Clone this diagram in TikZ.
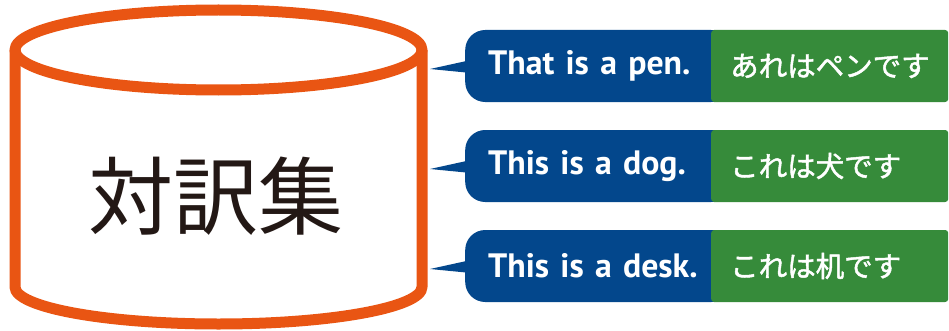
\documentclass[tikz,border=0pt]{standalone}
\usepackage{fontspec}
\setmainfont{PT Sans}
\newfontfamily\jpfont{Noto Sans CJK JP}
\newfontfamily\jpboldfont{Noto Sans CJK JP}[FakeBold=1.6]
\usetikzlibrary{positioning}

\definecolor{dborange}{HTML}{E95513}
\definecolor{enblue}{HTML}{03478C}
\definecolor{jagreen}{HTML}{368B3A}
\definecolor{dbtext}{HTML}{231815}

\tikzset{
  dbline/.style={draw=dborange, line width=11pt, line join=round},
  dblabel/.style={text=dbtext, font=\jpfont\fontsize{85}{90}\selectfont},
  enbox/.style={fill=enblue, text=white, rounded corners=20pt, anchor=west,
    minimum height=72pt, inner xsep=23pt, text width=220pt, align=left,
    font=\fontsize{33.8}{38}\selectfont\bfseries},
  jabox/.style={fill=jagreen, text=white, rounded corners=3pt, anchor=west,
    minimum height=72pt, inner xsep=19pt, text width=199pt, align=left,
    font=\jpboldfont\fontsize{28.5}{32}\selectfont}
}

\begin{document}
\begin{tikzpicture}[x=1pt, y=1pt]
  \useasboundingbox (0,0) rectangle (949,330);

  % Cylinder
  \draw[dbline] (15,280) -- (15,43)
    arc[start angle=180, end angle=360, x radius=203.5, y radius=37] -- (422,280);
  \draw[dbline] (218.5,280) ellipse[x radius=203.5, y radius=40];
  \node[dblabel] (db) at (216,134) {対訳集};

  % Sentence pairs
  \foreach \i/\y/\en/\ja in {1/264/That is a pen./あれはペンです,
                             2/164/This is a dog./これは犬です,
                             3/64/This is a desk./これは机です} {
    \coordinate (tip\i) at (430,\y-3);
    \node[enbox] (en\i) at (465,\y) {\en};
    \node[jabox] (ja\i) at (711,\y) {\ja};
    \fill[enblue] (tip\i) -- ([shift={(6pt,6pt)}]en\i.west)
      -- ([shift={(6pt,-7pt)}]en\i.west) -- cycle;
  }
\end{tikzpicture}
\end{document}
